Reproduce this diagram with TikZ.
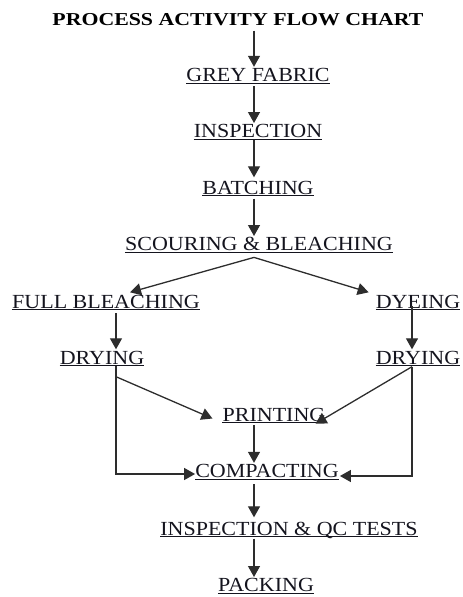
\documentclass[tikz,border=0pt]{standalone}
\usepackage{fontspec}
\setmainfont{Liberation Serif}
\usetikzlibrary{arrows.meta}
\definecolor{ink}{RGB}{20,20,30}
\definecolor{linec}{RGB}{45,45,45}
\tikzset{
  lbl/.style={inner xsep=0pt, inner ysep=1.5pt, text height=13pt, text depth=0pt,
    anchor=base, text=ink,
    font=\fontsize{20}{22}\selectfont\addfontfeatures{FakeStretch=1.1},
    append after command={(\tikzlastnode.south west) edge[-, draw=ink, line width=1.2pt] (\tikzlastnode.south east)}},
  ttl/.style={inner xsep=0pt, inner ysep=1.5pt, text height=12.5pt, text depth=0pt,
    anchor=base, text=black,
    font=\fontsize{18.2}{22}\selectfont\bfseries\addfontfeatures{FakeStretch=1.2}},
  arr/.style={draw=linec, line width=1.3pt, -{Triangle[length=11pt,width=12pt]}},
  ln/.style={draw=linec, line width=1.3pt}
}
\begin{document}
\begin{tikzpicture}[x=1pt,y=-1pt]
\useasboundingbox (0,0) rectangle (463,597);
\coordinate (sp) at (254,0);
\coordinate (ls) at (116,0);
\coordinate (rs) at (412,0);
\node[ttl] (title) at (238,25) {PROCESS ACTIVITY FLOW CHART};
\node[lbl] (grey) at (258,81.5) {GREY FABRIC};
\node[lbl] (insp) at (258,137.7) {INSPECTION};
\node[lbl] (batch) at (258,194) {BATCHING};
\node[lbl] (scour) at (259,250.7) {SCOURING \& BLEACHING};
\node[lbl] (full) at (106,308) {FULL BLEACHING};
\node[lbl] (dye) at (418,308) {DYEING};
\node[lbl] (dryl) at (102,364) {DRYING};
\node[lbl] (dryr) at (418,364) {DRYING};
\node[lbl] (prn) at (274,421) {PRINTING};
\node[lbl] (comp) at (267,477.5) {COMPACTING};
\node[lbl] (qc) at (289,535) {INSPECTION \& QC TESTS};
\node[lbl] (pack) at (266,591.7) {PACKING};
\draw[arr] ([yshift=-4pt]title.south -| sp) -- (grey.north -| sp);
\draw[arr] ([yshift=-3pt]grey.south -| sp) -- (insp.north -| sp);
\draw[arr] ([yshift=-1pt]insp.south -| sp) -- ([yshift=2pt]batch.north -| sp);
\draw[arr] ([yshift=-3pt]batch.south -| sp) -- (scour.north -| sp);
\coordinate (fk) at ([yshift=-5pt]scour.south -| sp);
\draw[arr] (fk) -- ([xshift=24pt,yshift=1pt]full.north);
\draw[arr] (fk) -- ([xshift=-7pt,yshift=1pt]dye.north west);
\draw[arr] ([yshift=-3.5pt]full.south -| ls) -- (dryl.north -| ls);
\draw[arr] ([yshift=3.5pt]dye.south -| rs) -- (dryr.north -| rs);
\coordinate (lj) at ([yshift=-11pt]dryl.south -| ls);
\coordinate (rj) at ([yshift=-1pt]dryr.south -| rs);
\draw[arr] (dryl.south -| ls) |- ([yshift=-3pt]comp.west);
\draw[arr] (lj) -- ([xshift=-10pt,yshift=-4pt]prn.west);
\draw[arr] (rj) -- ([xshift=-10pt,yshift=-1pt]prn.south east);
\draw[arr] (rj) |- ([xshift=1pt,yshift=-5pt]comp.east);
\draw[arr] ([yshift=-2.5pt]prn.south -| sp) -- (comp.north -| sp);
\draw[arr] ([yshift=-5pt]comp.south -| sp) -- ([yshift=3pt]qc.north -| sp);
\draw[arr] ([yshift=-2pt]qc.south -| sp) -- (pack.north -| sp);
\end{tikzpicture}
\end{document}
